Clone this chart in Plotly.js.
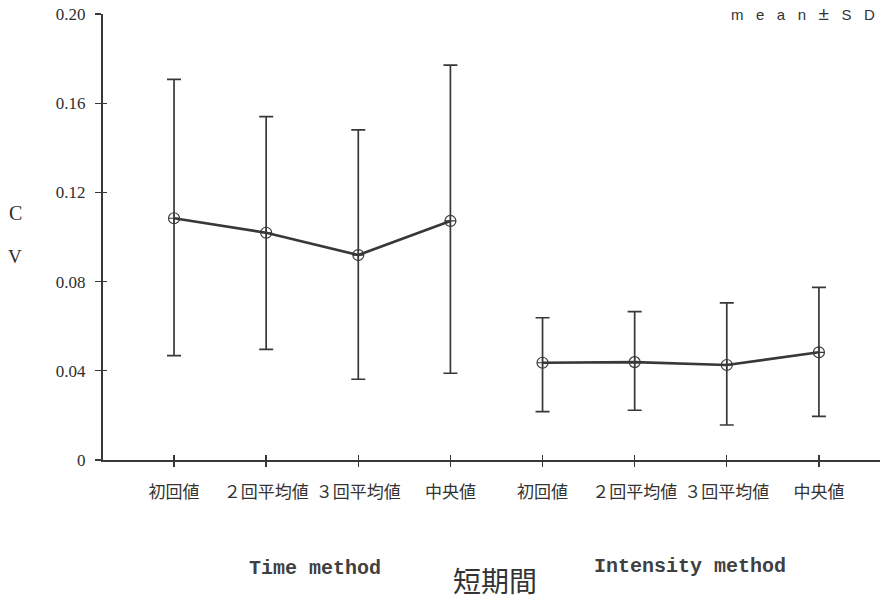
<!DOCTYPE html>
<html>
<head>
<meta charset="utf-8">
<script src="https://cdn.plot.ly/plotly-3.0.1.min.js"></script>
<style>html,body{margin:0;padding:0;background:#fff;}#chart{width:880px;height:599px;}</style>
</head>
<body>
<div id="chart"></div>
<script>
// category labels (two groups of four)
var categories = ["初回値", "２回平均値", "３回平均値", "中央値", "初回値", "２回平均値", "３回平均値", "中央値"];
var groupNames = ["Time method", "Intensity method"];
// CV means
var timeMean = [0.1084, 0.1019, 0.0919, 0.1072];
var intensityMean = [0.0436, 0.0439, 0.0426, 0.0483];
// SD bar extents (upward / downward)
var timeSdPlus = [0.0623, 0.0521, 0.0561, 0.0699];
var timeSdMinus = [0.0616, 0.0523, 0.0557, 0.0683];
var intensitySdPlus = [0.0202, 0.0226, 0.0279, 0.0291];
var intensitySdMinus = [0.0219, 0.0216, 0.0269, 0.0287];
var yTicks = [0, 0.04, 0.08, 0.12, 0.16, 0.20];
var yTickText = ["0", "0.04", "0.08", "0.12", "0.16", "0.20"];

var ink = "#383838";
var xIdx = categories.map(function (c, i) { return i; });

function series(x, y, plus, minus, name) {
  return {
    type: "scatter", mode: "lines+markers", name: name,
    x: x, y: y,
    line: {color: ink, width: 2.6},
    marker: {symbol: "circle-cross-open", size: 11, color: ink, line: {width: 1.2, color: ink}},
    error_y: {type: "data", symmetric: false, array: plus, arrayminus: minus,
              color: ink, thickness: 1.7, width: 7},
    cliponaxis: false, showlegend: false
  };
}

var xRange = [-0.771, 7.663];
var yRange = [0, 0.2];

var traces = [
  series(xIdx.slice(0, 4), timeMean, timeSdPlus, timeSdMinus, groupNames[0]),
  series(xIdx.slice(4, 8), intensityMean, intensitySdPlus, intensitySdMinus, groupNames[1]),
  // invisible trace so the overlay axes (inner half of the crossing ticks) are drawn
  {type: "scatter", mode: "markers", x: [xIdx[0]], y: [yRange[0]], xaxis: "x2", yaxis: "y2",
   marker: {opacity: 0, size: 1}, showlegend: false, hoverinfo: "skip"}
];

var nb = "\u00a0";
var meanSd = ["m", "e", "a", "n", "<span style='font-size:19px'>±</span>", "S", "D"].join(nb + nb + nb);

var layout = {
  width: 880, height: 599,
  margin: {l: 103, r: 0, t: 14, b: 139},
  paper_bgcolor: "#ffffff", plot_bgcolor: "#ffffff",
  showlegend: false,
  xaxis: {
    range: xRange, tickmode: "array", tickvals: xIdx, ticktext: categories,
    showgrid: false, zeroline: false, showline: true, linecolor: ink, linewidth: 2,
    ticks: "outside", ticklen: 5, tickwidth: 1.4, tickcolor: ink,
    ticklabelstandoff: 11,
    tickfont: {family: "Noto Sans CJK JP", size: 17, color: "#333"}
  },
  xaxis2: {
    range: xRange, overlaying: "x", anchor: "y2", side: "bottom", tickmode: "array", tickvals: xIdx,
    showticklabels: false, showgrid: false, zeroline: false, showline: false,
    ticks: "inside", ticklen: 5, tickwidth: 1.4, tickcolor: ink
  },
  yaxis: {
    range: yRange, tickmode: "array", tickvals: yTicks, ticktext: yTickText,
    showgrid: false, zeroline: false, showline: true, linecolor: ink, linewidth: 2,
    ticks: "outside", ticklen: 6, tickwidth: 1.4, tickcolor: ink,
    ticklabelstandoff: 6,
    tickfont: {family: "Liberation Serif", size: 17, color: "#2e2e2e"}
  },
  yaxis2: {
    range: yRange, overlaying: "y", anchor: "x2", side: "left", tickmode: "array", tickvals: yTicks,
    showticklabels: false, showgrid: false, zeroline: false, showline: false,
    ticks: "inside", ticklen: 4, tickwidth: 1.4, tickcolor: ink
  },
  annotations: [
    {text: "C", xref: "paper", yref: "paper", x: -0.113, y: (460 - 213) / 446, xanchor: "center", yanchor: "middle",
     showarrow: false, font: {family: "Liberation Serif", size: 20, color: "#2e2e2e"}},
    {text: "V", xref: "paper", yref: "paper", x: -0.113, y: (460 - 256) / 446, xanchor: "center", yanchor: "middle",
     showarrow: false, font: {family: "Liberation Serif", size: 19, color: "#2e2e2e"}},
    {text: groupNames[0], xref: "x", yref: "paper", x: 1.535, y: (460 - 568) / 446, xanchor: "center", yanchor: "middle",
     showarrow: false, font: {family: "Liberation Mono", size: 20, weight: "bold", color: "#404040"}},
    {text: groupNames[1], xref: "x", yref: "paper", x: 5.60, y: (460 - 566) / 446, xanchor: "center", yanchor: "middle",
     showarrow: false, font: {family: "Liberation Mono", size: 20, weight: "bold", color: "#404040"}},
    {text: "短期間", xref: "x", yref: "paper", x: 3.48, y: (460 - 580) / 446, xanchor: "center", yanchor: "middle",
     showarrow: false, font: {family: "Noto Sans CJK JP", size: 28, color: "#333"}},
    {text: meanSd, xref: "paper", yref: "paper", x: 0.996, y: (460 - 13) / 446, xanchor: "right", yanchor: "middle",
     showarrow: false, font: {family: "Liberation Sans", size: 15, color: "#333"}}
  ]
};

Plotly.newPlot("chart", traces, layout, {staticPlot: true, displayModeBar: false});
</script>
</body>
</html>
